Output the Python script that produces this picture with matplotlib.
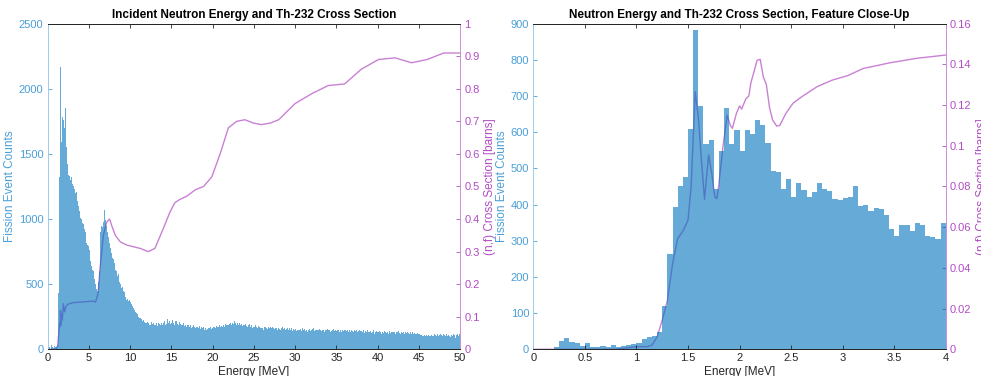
import numpy as np
import matplotlib
matplotlib.use('Agg')
import matplotlib.pyplot as plt

plt.rcParams['font.family'] = ['Liberation Sans', 'DejaVu Sans']

# ---------------- data: full range (0.1 MeV bins) ----------------
edges_full = np.arange(0, 50.01, 0.1)
counts_full = [
    10, 45, 20, 5, 30, 15, 40, 10, 25, 20,
    15, 30, 55, 430, 1320, 2170, 1590, 1780, 1650, 1760,
    1700, 1850, 1550, 1560, 1420, 1340, 1330, 1300, 1320, 1290,
    1270, 1250, 1230, 1200, 1210, 1150, 1140, 1100, 1060, 1010,
    1000, 990, 970, 960, 920, 900, 880, 820, 800, 790,
    760, 680, 660, 640, 610, 600, 540, 500, 470, 460,
    450, 520, 600, 760, 900, 950, 940, 980, 1070, 960,
    990, 950, 900, 860, 820, 790, 780, 740, 700, 690,
    660, 640, 610, 600, 560, 580, 540, 520, 500, 470,
    480, 450, 430, 440, 400, 380, 390, 370, 360, 380,
    360, 350, 330, 340, 320, 300, 290, 280, 270, 260,
    250, 240, 240, 230, 220, 215, 225, 210, 205, 200,
    210, 195, 200, 185, 190, 210, 180, 195, 205, 190,
    185, 200, 190, 180, 205, 195, 185, 200, 210, 190,
    200, 220, 190, 205, 195, 230, 200, 215, 195, 210,
    200, 225, 205, 190, 215, 200, 220, 195, 185, 210,
    195, 205, 190, 185, 200, 180, 195, 190, 175, 185,
    185, 170, 180, 190, 165, 175, 185, 170, 180, 160,
    170, 175, 160, 165, 180, 155, 170, 165, 175, 160,
    150, 160, 145, 155, 165, 150, 160, 170, 155, 165,
    170, 160, 175, 165, 180, 170, 165, 175, 185, 170,
    180, 175, 190, 185, 175, 195, 185, 190, 200, 185,
    195, 205, 190, 210, 200, 195, 215, 200, 190, 205,
    200, 190, 205, 185, 195, 200, 180, 190, 185, 195,
    180, 190, 175, 185, 195, 170, 180, 185, 165, 175,
    170, 185, 165, 175, 160, 180, 170, 165, 175, 160,
    165, 150, 170, 160, 175, 165, 155, 170, 160, 165,
    170, 160, 175, 165, 155, 170, 160, 165, 150, 160,
    155, 165, 150, 160, 170, 155, 145, 160, 150, 155,
    160, 145, 155, 165, 150, 160, 140, 155, 150, 145,
    155, 140, 150, 160, 145, 150, 155, 140, 165, 150,
    145, 155, 140, 150, 135, 150, 145, 155, 140, 150,
    155, 145, 160, 140, 150, 145, 135, 150, 145, 155,
    150, 140, 155, 145, 150, 135, 145, 150, 140, 155,
    145, 150, 135, 145, 140, 150, 155, 140, 145, 135,
    140, 150, 145, 135, 150, 140, 130, 145, 140, 150,
    145, 135, 140, 150, 130, 145, 140, 135, 150, 140,
    135, 145, 130, 140, 150, 135, 140, 145, 130, 140,
    140, 130, 145, 135, 125, 140, 135, 145, 130, 135,
    130, 140, 125, 135, 145, 130, 120, 135, 140, 130,
    135, 125, 140, 130, 120, 135, 130, 125, 140, 130,
    125, 135, 130, 120, 140, 125, 130, 135, 120, 130,
    130, 120, 135, 125, 130, 140, 125, 120, 130, 135,
    125, 130, 120, 135, 125, 115, 130, 125, 120, 130,
    120, 125, 130, 115, 125, 120, 130, 115, 125, 120,
    115, 110, 105, 110, 100, 105, 110, 100, 105, 110,
    105, 110, 100, 115, 105, 110, 100, 105, 115, 110,
    110, 105, 115, 100, 110, 105, 120, 110, 105, 115,
    110, 120, 105, 115, 100, 110, 115, 105, 95, 110,
    105, 115, 100, 110, 85, 110, 120, 100, 115, 120,
]

xs_energy_full = [0, 1.0, 1.2, 1.35, 1.45, 1.5, 1.55, 1.62, 1.7, 1.78, 1.9, 2.05,
                  2.2, 2.4, 3.0, 4.0, 5.0, 5.5, 5.8, 6.1, 6.35, 6.75, 7.15, 7.5,
                  7.76, 8.2, 8.8, 9.6, 10.4, 11.2, 12.2, 13.0, 14.0, 14.8, 15.4,
                  16.0, 16.85, 17.9, 18.9, 19.9, 20.9, 21.9, 22.9, 23.9, 24.9,
                  25.9, 27.0, 28.0, 29.0, 30.0, 32.0, 34.0, 36.0, 38.0, 40.1,
                  42.1, 44.1, 46.0, 48.0, 50.0]
xs_sigma_full = [0, 0, 0.01, 0.05, 0.08, 0.07, 0.12, 0.075, 0.11, 0.09, 0.14, 0.115,
                 0.13, 0.138, 0.143, 0.145, 0.147, 0.148, 0.145, 0.17, 0.25, 0.35,
                 0.39, 0.40, 0.38, 0.35, 0.33, 0.32, 0.315, 0.31, 0.30, 0.31, 0.37,
                 0.42, 0.45, 0.46, 0.47, 0.49, 0.50, 0.53, 0.60, 0.68, 0.70, 0.705,
                 0.695, 0.69, 0.695, 0.705, 0.73, 0.755, 0.785, 0.81, 0.815, 0.86,
                 0.89, 0.895, 0.88, 0.89, 0.91, 0.91]

# ---------------- data: close-up (0.05 MeV bins) ----------------
edges_zoom = np.arange(0, 4.001, 0.05)
counts_zoom = [
    0, 0, 0, 0, 7, 22, 30, 21, 17, 9,
    18, 7, 6, 8, 5, 11, 7, 10, 13, 15,
    17, 28, 33, 38, 49, 120, 263, 394, 451, 475,
    610, 882, 673, 567, 578, 442, 549, 666, 567, 606,
    548, 606, 595, 634, 620, 571, 493, 489, 442, 472,
    420, 459, 440, 420, 436, 461, 442, 438, 416, 413,
    418, 422, 451, 396, 398, 382, 390, 388, 370, 333,
    314, 343, 343, 328, 348, 344, 312, 310, 304, 348,
]

xs_energy_zoom = [0, 0.8, 1.0, 1.1, 1.15, 1.2, 1.25, 1.3, 1.35, 1.4, 1.45, 1.5,
                  1.53, 1.57, 1.6, 1.63, 1.66, 1.70, 1.73, 1.76, 1.78, 1.8, 1.84,
                  1.88, 1.91, 1.93, 1.97, 2.0, 2.02, 2.06, 2.09, 2.11, 2.14, 2.17,
                  2.2, 2.23, 2.26, 2.29, 2.32, 2.36, 2.39, 2.45, 2.52, 2.6, 2.75,
                  2.9, 3.05, 3.2, 3.46, 3.72, 4.0]
xs_sigma_zoom = [0, 0, 0.0013, 0.0013, 0.002, 0.006, 0.0144, 0.024, 0.042, 0.0545,
                 0.058, 0.0635, 0.08, 0.1266, 0.114, 0.093, 0.0737, 0.0955, 0.0865,
                 0.075, 0.074, 0.0815, 0.10, 0.115, 0.110, 0.1086, 0.116, 0.1196,
                 0.118, 0.123, 0.1245, 0.131, 0.1364, 0.142, 0.1425, 0.134, 0.13,
                 0.119, 0.1127, 0.1097, 0.110, 0.116, 0.121, 0.124, 0.129, 0.1323,
                 0.1345, 0.138, 0.1408, 0.143, 0.1446]

# ---------------- styling ----------------
bar_col = (0, 0.447, 0.741)
left_col = '#4a9fd8'
right_col = '#b24cc4'
right_spine = '#cf90db'
line_col = '#c981d4'

fig = plt.figure(figsize=(9.81, 3.76), dpi=100)


def panel(rect, edges, counts, xe, xsig, xlim, xticks, ylim1, yticks1, ylim2, yticks2,
          y2fmt, title):
    ax = fig.add_axes(rect)
    ax2 = ax.twinx()
    ax.set_zorder(ax2.get_zorder() + 1)
    ax.patch.set_visible(False)

    ax2.plot(xe, xsig, color=line_col, lw=1.0)
    ax.hist(edges[:-1], bins=edges, weights=counts, color=bar_col, alpha=0.6,
            edgecolor='none')

    ax.set_xlim(*xlim)
    ax.set_xticks(xticks)
    ax.set_xticklabels([('%g' % t) for t in xticks])
    ax.set_ylim(*ylim1)
    ax.set_yticks(yticks1)
    ax2.set_ylim(*ylim2)
    ax2.set_yticks(yticks2)
    ax2.set_yticklabels([y2fmt(t) for t in yticks2])

    ax.tick_params(axis='x', direction='in', top=True, length=3, width=0.6,
                   labelsize=8, colors='#262626', pad=3)
    ax.tick_params(axis='y', direction='in', length=3, width=0.6, labelsize=8,
                   colors=left_col, pad=3)
    ax2.tick_params(axis='y', direction='in', length=3, width=0.6, labelsize=8,
                    colors=right_col, pad=3)

    for a in (ax, ax2):
        a.spines['top'].set_color('#262626')
        a.spines['bottom'].set_color('#262626')
        a.spines['left'].set_color('#9fcdec')
        a.spines['right'].set_color(right_spine)
        for s in a.spines.values():
            s.set_linewidth(0.7)

    ax.set_xlabel('Energy [MeV]', fontsize=8.5, color='#262626', labelpad=2)
    ax.set_ylabel('Fission Event Counts', fontsize=8.5, color=left_col, labelpad=2)
    ax2.set_ylabel('(n,f) Cross Section [barns]', fontsize=8.5, color=right_col,
                   labelpad=3)
    ax.set_title(title, fontsize=8.5, fontweight='bold', pad=4)
    return ax, ax2


panel([0.0486, 0.071, 0.4205, 0.866], edges_full, counts_full,
      xs_energy_full, xs_sigma_full, (0, 50), list(range(0, 51, 5)),
      (0, 2500), list(range(0, 2501, 500)), (0, 1),
      [0, 0.1, 0.2, 0.3, 0.4, 0.5, 0.6, 0.7, 0.8, 0.9, 1.0],
      lambda t: '%g' % t,
      'Incident Neutron Energy and Th-232 Cross Section')

panel([0.5437, 0.071, 0.4204, 0.866], edges_zoom, counts_zoom,
      xs_energy_zoom, xs_sigma_zoom, (0, 4),
      [0, 0.5, 1, 1.5, 2, 2.5, 3, 3.5, 4],
      (0, 900), list(range(0, 901, 100)), (0, 0.16),
      [0, 0.02, 0.04, 0.06, 0.08, 0.1, 0.12, 0.14, 0.16],
      lambda t: '%g' % round(t, 2),
      'Neutron Energy and Th-232 Cross Section, Feature Close-Up')

fig.savefig('out.png', dpi=100)
